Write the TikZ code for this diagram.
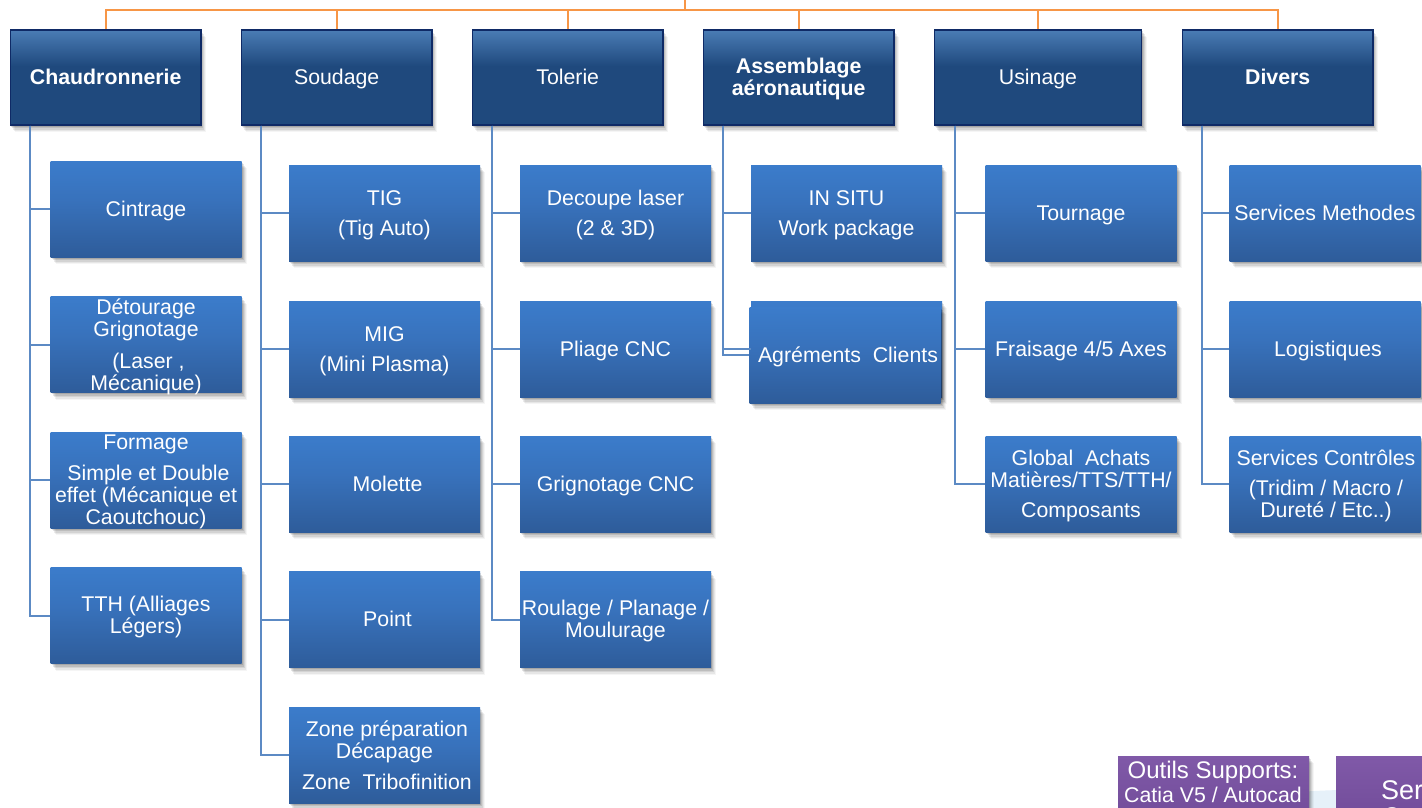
\documentclass[tikz,border=0pt]{standalone}
\usepackage{fontspec}
\setmainfont{Liberation Sans}
\usetikzlibrary{calc}
\definecolor{headtop}{HTML}{4A7CB5}
\definecolor{headmid}{HTML}{1F497D}
\definecolor{headline}{HTML}{0F2A66}
\definecolor{subtop}{HTML}{3B7CCB}
\definecolor{submid}{HTML}{3872BC}
\definecolor{subbot}{HTML}{2E5C9A}
\definecolor{linkblue}{HTML}{5C8AC4}
\definecolor{buscol}{HTML}{F79646}
\definecolor{purptop}{HTML}{8059A8}
\definecolor{purpbot}{HTML}{6F4A97}
\definecolor{paleblue}{HTML}{E6F1F9}
\pgfdeclareverticalshading{headgrad}{100bp}{color(0bp)=(headmid); color(56bp)=(headmid); color(75bp)=(headtop); color(100bp)=(headtop)}
\pgfdeclareverticalshading{subgrad}{100bp}{color(0bp)=(subbot); color(25bp)=(subbot); color(55bp)=(submid); color(75bp)=(subtop); color(100bp)=(subtop)}
\tikzset{
  x=1pt,y=-1pt,
  softshadow/.style={
    preaction={fill=black,fill opacity=.04,draw=none,transform canvas={shift={(5pt,-7pt)}}},
    preaction={fill=black,fill opacity=.06,draw=none,transform canvas={shift={(4pt,-6pt)}}},
    preaction={fill=black,fill opacity=.08,draw=none,transform canvas={shift={(3pt,-4.5pt)}}},
    preaction={fill=black,fill opacity=.10,draw=none,transform canvas={shift={(2pt,-3pt)}}},
    preaction={fill=black,fill opacity=.12,draw=none,transform canvas={shift={(1pt,-1.5pt)}}}},
  boxtext/.style={inner sep=0pt,text=white,align=center,yshift=-3pt,
    font=\fontsize{21.3}{22}\selectfont,
    execute at begin node={\strut},execute at end node={\strut}},
  headbox/.style={rectangle,softshadow,draw=headline,line width=1.2pt,
    shade,shading=headgrad,minimum height=95pt,inner sep=0pt},
  subbox/.style={rectangle,softshadow,shade,shading=subgrad,
    minimum width=191pt,minimum height=96pt,inner sep=0pt},
  purplebox/.style={rectangle,softshadow,top color=purptop,bottom color=purpbot},
  purpletext/.style={inner sep=0pt,text=white,align=center},
  link/.style={draw=linkblue,line width=2pt},
  buslink/.style={draw=buscol,line width=2pt},
}
% box node and its text node: name, position, text
\newcommand\subbx[3]{\node[subbox] (#1) at (#2) {}; \node[boxtext] (#1t) at (#1.center) {#3};}
\newcommand\headbx[4]{\node[headbox,minimum width=#3pt] (#1) at (#2) {}; \node[boxtext] (#1t) at (#1.center) {#4};}
\begin{document}
\begin{tikzpicture}
\useasboundingbox (0,0) rectangle (1422,808);
\clip (0,0) rectangle (1422,808);
\fill[white] (0,0) rectangle (1422,808);
% pale background shape
\fill[paleblue] (1200,808) .. controls (1260,792) and (1320,788) .. (1422,790) -- (1422,808) -- cycle;

\coordinate (root) at (685,-4);
\coordinate (bus) at (685,10);
\draw[buslink] (root) -- (bus);

\headbx{h1}{105.7,77.5}{190.5}{\textbf{Chaudronnerie}}
\headbx{h2}{336.7,77.5}{190.5}{Soudage}
\headbx{h3}{567.7,77.5}{190.5}{Tolerie}
\headbx{h4}{798.7,77.5}{190.5}{\textbf{Assemblage}\\\textbf{aéronautique}}
\headbx{h5}{1038,77.5}{207.5}{Usinage}
\headbx{h6}{1277.7,77.5}{190.5}{\textbf{Divers}}

% column 1
\subbx{a1}{146,209}{Cintrage}
\subbx{a2}{146,344.5}{Détourage\\Grignotage\\[10pt]\hspace*{5pt}(Laser ,\\Mécanique)}
\subbx{a3}{146,480}{Formage\\[9pt]\hspace*{5pt}Simple et Double\\effet (Mécanique et\\Caoutchouc)}
\subbx{a4}{146,615.5}{TTH (Alliages\\Légers)}
% column 2
\subbx{b1}{384.5,213}{TIG\\[8pt](Tig Auto)}
\subbx{b2}{384.5,349}{MIG\\[8pt](Mini Plasma)}
\subbx{b3}{384.5,484}{\hspace*{6pt}Molette}
\subbx{b4}{384.5,619.5}{\hspace*{6pt}Point}
\subbx{b5}{384.5,755}{\hspace*{5pt}Zone préparation\\Décapage\\[9pt]\hspace*{5pt}Zone\ \ Tribofinition}
% column 3
\subbx{c1}{615.5,213}{Decoupe laser\\[8pt](2 \& 3D)}
\subbx{c2}{615.5,349}{Pliage CNC}
\subbx{c3}{615.5,484}{Grignotage CNC}
\subbx{c4}{615.5,619.5}{Roulage / Planage /\\Moulurage}
% column 4
\subbx{d1}{846.5,213}{IN SITU\\[8pt]Work package}
\node[subbox] (d2) at (846.5,349) {};
\subbx{d3}{845,355}{\hspace*{6pt}Agréments\ \ Clients}
% column 5
\subbx{e1}{1081,213}{Tournage}
\subbx{e2}{1081,349}{Fraisage 4/5 Axes}
\subbx{e3}{1081,484}{Global\ \ Achats\\Matières/TTS/TTH/\\[8pt]Composants}
% column 6
\subbx{f1}{1325,213}{Services Methodes}
\subbx{f2}{1325,349}{\hspace*{6pt}Logistiques}
\subbx{f3}{1325,484}{\hspace*{2pt}Services Contrôles\\[8pt]\hspace*{2pt}(Tridim / Macro /\\\hspace*{2pt}Dureté / Etc..)}

% purple boxes
\fill[purplebox] (1118,756) rectangle (1309,830);
\fill[purplebox] (1336,756) rectangle (1440,830);
\node[purpletext,font=\fontsize{24}{26}\selectfont] (p1) at (1213,772.5) {Outils Supports:};
\node[purpletext,font=\fontsize{21.3}{23}\selectfont] (p2) at (1213,795) {Catia V5 / Autocad};
\node[purpletext,font=\fontsize{27}{29}\selectfont,anchor=west] (p3) at (1381,790) {Ser};
\node[purpletext,font=\fontsize{21.3}{23}\selectfont] (p4) at (1392,815) {S};

% connectors
\foreach \h in {h1,h2,h3,h4,h5,h6} \draw[buslink] (bus) -| (\h.north);
\foreach \h/\c in {h1/a1,h1/a2,h1/a3,h1/a4}
  \draw[link] ($(\h.south west)+(20,0)$) |- (\c.west);
\foreach \h/\c in {h2/b1,h2/b2,h2/b3,h2/b4,h2/b5}
  \draw[link] ($(\h.south west)+(20,0)$) |- (\c.west);
\foreach \h/\c in {h3/c1,h3/c2,h3/c3,h3/c4}
  \draw[link] ($(\h.south west)+(20,0)$) |- (\c.west);
\foreach \h/\c in {h4/d1,h4/d2,h4/d3}
  \draw[link] ($(\h.south west)+(20,0)$) |- (\c.west);
\foreach \h/\c in {h5/e1,h5/e2,h5/e3}
  \draw[link] ($(\h.south west)+(21,0)$) |- (\c.west);
\foreach \h/\c in {h6/f1,h6/f2,h6/f3}
  \draw[link] ($(\h.south west)+(20,0)$) |- (\c.west);
\end{tikzpicture}
\end{document}
